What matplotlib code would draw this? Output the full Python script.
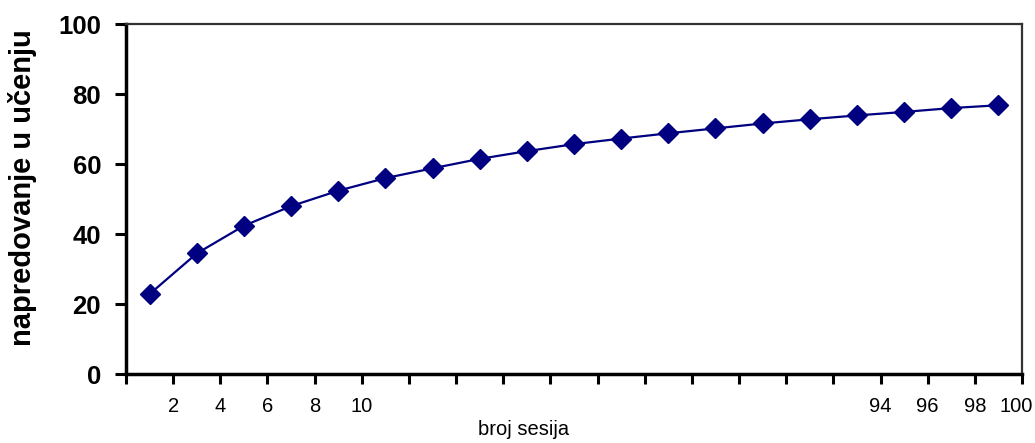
import matplotlib
matplotlib.use("Agg")
import matplotlib.pyplot as plt
import numpy as np

# Data
values = [22.9, 34.5, 42.4, 48.0, 52.4, 56.0, 58.8, 61.5, 63.7, 65.7,
          67.3, 68.8, 70.2, 71.6, 72.8, 73.9, 74.9, 76.0, 76.8]
x_ticklabels = ["", "2", "4", "6", "8", "10", "", "", "", "", "", "", "", "", "", "",
                "94", "96", "98", "100"]
y_ticks = [0, 20, 40, 60, 80, 100]
x_label = "broj sesija"
y_label = "napredovanje u učenju"

plt.rcParams['font.family'] = ['Liberation Sans', 'DejaVu Sans']

fig = plt.figure(figsize=(10.35, 4.43), dpi=100)
ax = fig.add_axes([126/1035, 1 - 374.3/443, (1022 - 126)/1035, (374.3 - 24)/443])

x = np.arange(len(values)) + 0.5
ax.plot(x, values, color="#000080", linewidth=1.6, marker="D", markersize=10.5,
        markerfacecolor="#000080", markeredgecolor="#000080")

n_ticks = len(x_ticklabels)
ax.set_xlim(0, n_ticks - 1)
ax.set_ylim(0, 100)
ax.set_xticks(np.arange(n_ticks))
# last label is drawn separately, nudged inward so it stays inside the figure
ax.set_xticklabels(x_ticklabels[:-1] + [""], fontsize=14.5)
ax.annotate(x_ticklabels[-1], xy=(n_ticks - 1, 0), xycoords=("data", "axes fraction"),
            xytext=(-6, -(7.2 + 9) * 100 / 72), textcoords="offset pixels",
            ha="center", va="top", fontsize=14.5)
ax.set_yticks(y_ticks)
ax.set_yticklabels([str(v) for v in y_ticks], fontsize=18.5, fontweight="bold")

for s in ["left", "bottom"]:
    ax.spines[s].set_linewidth(2.5)
    ax.spines[s].set_color("black")
for s in ["top", "right"]:
    ax.spines[s].set_linewidth(1.6)
    ax.spines[s].set_color("#333333")

ax.tick_params(axis="x", direction="out", length=7.2, width=2.2, pad=9, colors="black")
ax.tick_params(axis="y", direction="out", length=8, width=2.2, pad=10, colors="black")

ax.set_ylabel(y_label, fontsize=21, fontweight="bold")
ax.yaxis.set_label_coords((37 - 126) / 896, (374.3 - 188) / 350.3)
ax.set_xlabel(x_label, fontsize=14.5)
ax.xaxis.set_label_coords((524 - 126) / 896, (374.3 - 420) / 350.3)

fig.savefig("out.png", dpi=100)
